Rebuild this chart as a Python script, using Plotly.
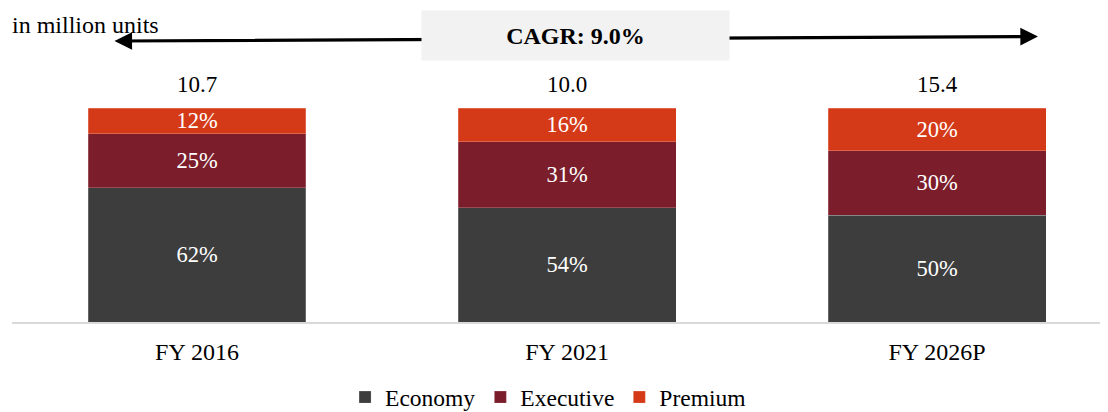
import plotly.graph_objects as go

categories = ["FY 2016", "FY 2021", "FY 2026P"]
totals = [10.7, 10.0, 15.4]
economy = [62, 54, 50]
executive = [25, 31, 30]
premium = [12, 16, 20]
cagr_text = "CAGR: 9.0%"
unit_text = "in million units"

colors = {"Economy": "#3d3d3d", "Executive": "#7b1d2b", "Premium": "#d53a18"}
FONT = "Liberation Serif, Times New Roman, serif"

fig = go.Figure()
for name, vals in [("Economy", economy), ("Executive", executive), ("Premium", premium)]:
    fig.add_trace(go.Bar(
        x=categories, y=vals, name=name,
        marker=dict(color=colors[name], line=dict(color="rgba(255,255,255,0.35)", width=0.6)),
        text=[f"{v}%" for v in vals], textposition="inside", insidetextanchor="middle",
        textfont=dict(color="white", size=22.5, family=FONT), constraintext="none",
        hoverinfo="skip",
    ))

for c, t in zip(categories, totals):
    fig.add_annotation(x=c, y=100, xref="x", yref="y", text=f"{t:.1f}", showarrow=False,
                       yanchor="bottom", yshift=9, font=dict(size=23, family=FONT, color="black"))

# double-headed CAGR arrow
fig.add_annotation(x=0.9361, y=1.334, xref="paper", yref="paper", text="",
                   showarrow=True, ax=-925, ay=4.5, axref="pixel", ayref="pixel",
                   arrowhead=2, arrowside="end+start", arrowwidth=3.2, arrowsize=1.1,
                   arrowcolor="black", standoff=0, startstandoff=0)
fig.add_annotation(x=0.5137, y=1.339, xref="paper", yref="paper", text=f"<b>{cagr_text}</b>",
                   showarrow=False, width=305, height=47, bgcolor="#f2f2f2",
                   xanchor="center", yanchor="middle",
                   font=dict(size=24, family=FONT, color="black"))
fig.add_annotation(x=0, y=1.388, xref="paper", yref="paper", text=unit_text, showarrow=False,
                   xanchor="left", yanchor="middle", xshift=-2,
                   font=dict(size=24, family=FONT, color="black"))

# page body has an 8px default margin: figure is 8px smaller and shifted
fig.update_layout(
    width=1100, height=404,
    margin=dict(l=4, r=0, t=100, b=90, autoexpand=False),
    barmode="stack", barnorm="percent", bargap=0.411,
    plot_bgcolor="white", paper_bgcolor="white",
    font=dict(family=FONT, size=23, color="black"),
    showlegend=True,
    legend=dict(orientation="h", x=0.4891, xanchor="center", y=-0.352, yanchor="middle",
                font=dict(size=23.5, family=FONT), traceorder="normal", itemclick=False),
    xaxis=dict(range=[-0.5, 2.462], showline=True, linecolor="#d9d9d9", linewidth=2,
               ticks="", ticklabelstandoff=7, tickfont=dict(size=24, family=FONT)),
    yaxis=dict(range=[0, 100], visible=False, showgrid=False),
)

fig.write_html("out.html")
